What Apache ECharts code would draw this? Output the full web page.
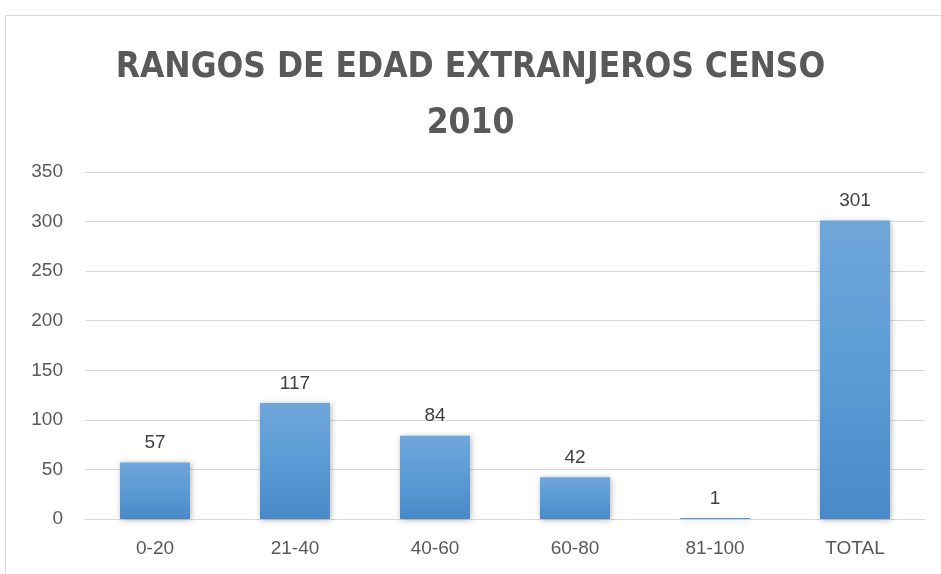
<!DOCTYPE html>
<html>
<head>
<meta charset="utf-8">
<script src="https://cdn.jsdelivr.net/npm/echarts@6/dist/echarts.min.js"></script>
<style>
    html, body { margin: 0; padding: 0; background: #fff; }
    #chart { width: 941px; height: 574px; }
</style>
</head>
<body>
<div id="chart"></div>
<script>
    // datos
    var categorias = ['0-20', '21-40', '40-60', '60-80', '81-100', 'TOTAL'];
    var valores = [57, 117, 84, 42, 1, 301];
    var titulo = 'RANGOS DE EDAD EXTRANJEROS CENSO\n2010';

    var chart = echarts.init(document.getElementById('chart'));
    chart.setOption({
        animation: false,
        backgroundColor: '#fff',
        graphic: [{
            type: 'rect',
            shape: { x: 5.5, y: 15.5, width: 1200, height: 1200 },
            style: { fill: 'none', stroke: '#d9d9d9', lineWidth: 1 }
        }],
        title: {
            text: titulo,
            left: 'center',
            top: 35,
            textStyle: {
                fontFamily: "'DejaVu Sans Condensed', 'Liberation Sans', sans-serif",
                fontWeight: 'bold',
                fontSize: 35,
                lineHeight: 56,
                color: '#595959'
            }
        },
        grid: { left: 85, right: 16, top: 172, bottom: 55 },
        xAxis: {
            type: 'category',
            data: categorias,
            axisLine: { lineStyle: { color: '#d9d9d9', width: 1 } },
            axisTick: { show: false },
            axisLabel: { color: '#595959', fontSize: 19, margin: 20, fontFamily: 'Liberation Sans' }
        },
        yAxis: {
            type: 'value',
            min: 0,
            max: 350,
            interval: 50,
            axisLine: { show: false },
            axisTick: { show: false },
            axisLabel: { color: '#595959', fontSize: 19, margin: 22, fontFamily: 'Liberation Sans' },
            splitLine: { lineStyle: { color: '#d9d9d9', width: 1 } }
        },
        series: [{
            type: 'bar',
            data: valores,
            barWidth: '50%',
            itemStyle: {
                color: new echarts.graphic.LinearGradient(0, 0, 0, 1, [
                    { offset: 0, color: '#6fa6da' },
                    { offset: 0.5, color: '#5b9bd5' },
                    { offset: 1, color: '#4a89c9' }
                ]),
                shadowColor: 'rgba(0,0,0,0.3)',
                shadowBlur: 6,
                shadowOffsetX: 1,
                shadowOffsetY: 1
            },
            label: {
                show: true,
                position: 'top',
                distance: 10,
                color: '#404040',
                fontSize: 19,
                fontFamily: 'Liberation Sans'
            }
        }]
    });
</script>
</body>
</html>
